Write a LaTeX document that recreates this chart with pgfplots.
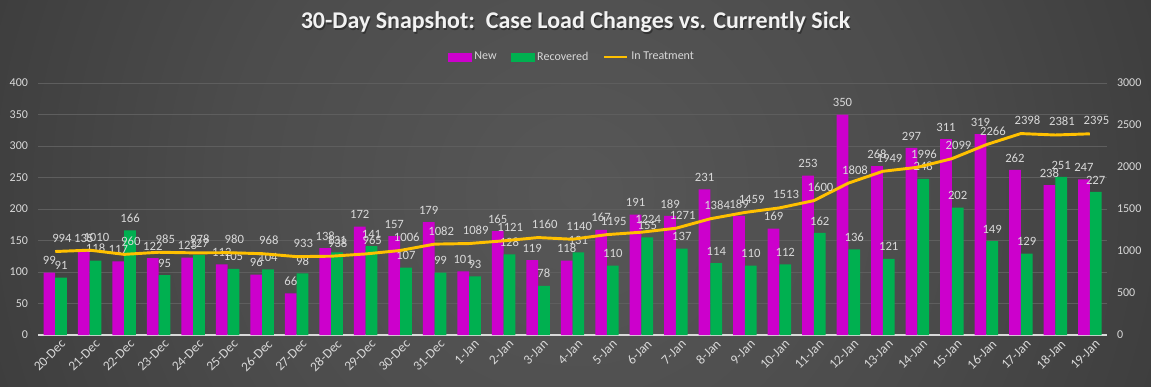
\documentclass[border=0pt]{standalone}
\usepackage{fontspec}
\setmainfont{Carlito}
\usepackage{pgfplots}
\usepackage{pgfplotstable}
\pgfplotsset{compat=1.18}
\definecolor{cnew}{HTML}{CC00CC}
\definecolor{crec}{HTML}{00B050}
\definecolor{ctreat}{HTML}{FFC000}
\definecolor{ctext}{HTML}{D9D9D9}
\definecolor{cgrid}{HTML}{5E5E5E}
\definecolor{bga}{HTML}{575757}
\definecolor{bgb}{HTML}{4C4C4C}
\definecolor{bgc}{HTML}{363636}
\definecolor{bgd}{HTML}{242424}
\definecolor{bge}{HTML}{1C1C1C}
\pgfdeclareradialshading{bgshade}{\pgfpoint{0bp}{0bp}}{color(0bp)=(bga); color(15bp)=(bgb); color(33bp)=(bgc); color(50bp)=(bgd); color(60bp)=(bge)}

\pgfplotstableread{
i new rec treat
0 99 91 994
1 135 118 1010
2 117 166 960
3 122 95 985
4 123 127 978
5 112 105 980
6 96 104 968
7 66 98 933
8 138 131 938
9 172 141 965
10 157 107 1006
11 179 99 1082
12 101 93 1089
13 165 128 1121
14 119 78 1160
15 118 131 1140
16 167 110 1195
17 191 155 1224
18 189 137 1271
19 231 114 1384
20 189 110 1459
21 169 112 1513
22 253 162 1600
23 350 136 1808
24 268 121 1949
25 297 248 1996
26 311 202 2099
27 319 149 2266
28 262 129 2398
29 238 251 2381
30 247 227 2395
}\data

\begin{document}
\begin{tikzpicture}
\useasboundingbox (0,0) rectangle (863.25pt,289.5pt);
\begin{scope}
\clip (0,0) rectangle (863.25pt,289.5pt);
\shade[shading=bgshade] (0pt,-286.875pt) rectangle (863.25pt,576.375pt);
\end{scope}
% title
\node[text=black!80, font=\fontsize{18}{20}\selectfont\bfseries] at (432.5pt,271.7pt) {30-Day Snapshot:\ \ Case Load Changes vs. Currently Sick};
\node[text=white!95!black, font=\fontsize{18}{20}\selectfont\bfseries] at (431.6pt,272.6pt) {30-Day Snapshot:\ \ Case Load Changes vs. Currently Sick};

\pgfplotsset{
  common/.style={
    at={(28.5pt,38.25pt)}, anchor=south west,
    scale only axis, width=801.75pt, height=189pt,
    xmin=-0.5, xmax=30.5,
    /pgf/number format/assume math mode=true,
    /pgf/number format/1000 sep={},
    tick style={draw=none},
    axis line style={draw=none},
    ticklabel style={text=ctext, font=\fontsize{9}{10}\selectfont},
  },
  lbl/.style={nodes near coords, every node near coord/.append style={text=ctext, font=\fontsize{9.5}{10}\selectfont, yshift=2.3pt}},
}

\begin{axis}[common,
  ymin=0, ymax=400, ytick={0,50,...,400},
  ymajorgrids, grid style={cgrid, line width=0.6pt},
  extra y ticks={0}, extra y tick labels={},
  extra y tick style={grid style={ctext, line width=0.9pt}},
  yticklabel style={anchor=east, xshift=-4pt},
  xtick={0,...,30},
  xticklabels={20-Dec,21-Dec,22-Dec,23-Dec,24-Dec,25-Dec,26-Dec,27-Dec,28-Dec,29-Dec,30-Dec,31-Dec,1-Jan,2-Jan,3-Jan,4-Jan,5-Jan,6-Jan,7-Jan,8-Jan,9-Jan,10-Jan,11-Jan,12-Jan,13-Jan,14-Jan,15-Jan,16-Jan,17-Jan,18-Jan,19-Jan},
  xticklabel style={rotate=45, anchor=north east, xshift=4pt, yshift=-1pt, font=\fontsize{10}{11}\selectfont},
]
\addplot[ybar, bar width=8.8pt, bar shift=-4.4pt, fill=cnew, draw=none, lbl, every node near coord/.append style={xshift=-4.4pt}] table[x=i, y=new] {\data};
\addplot[ybar, bar width=8.8pt, bar shift=4.4pt, fill=crec, draw=none, lbl, every node near coord/.append style={xshift=4.4pt}] table[x=i, y=rec] {\data};
\end{axis}

\begin{axis}[common,
  ymin=0, ymax=3000, ytick={0,500,...,3000},
  axis y line*=right, axis x line=none,
  yticklabel style={anchor=west, xshift=4pt},
  legend style={at={(0.5,1)}, anchor=center, yshift=19.5pt, draw=none, fill=none,
    text=ctext, font=\fontsize{9}{10}\selectfont, legend columns=-1,
    /tikz/every even column/.append style={column sep=9pt}},
]
\addlegendimage{area legend, fill=cnew, draw=cnew}
\addlegendentry{New}
\addlegendimage{area legend, fill=crec, draw=crec}
\addlegendentry{Recovered}
\addplot[ctreat, line width=2.2pt, mark=none, lbl, every node near coord/.append style={xshift=5pt}] table[x=i, y=treat] {\data};
\addlegendentry{In Treatment}
\end{axis}
\end{tikzpicture}
\end{document}
